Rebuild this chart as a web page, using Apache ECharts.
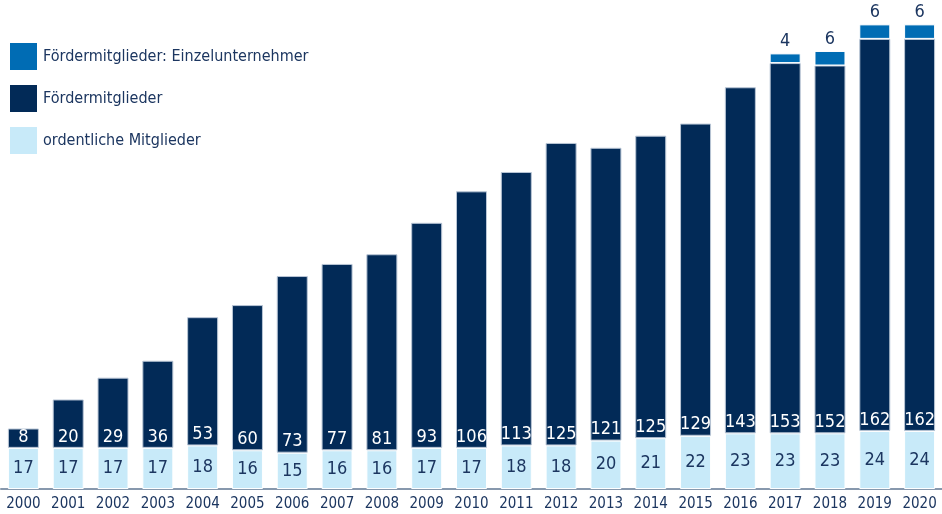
<!DOCTYPE html>
<html>
<head>
<meta charset="utf-8">
<script src="https://cdn.jsdelivr.net/npm/echarts@6/dist/echarts.min.js"></script>
<style>
  html, body { margin: 0; padding: 0; background: #fff; }
  #chart { width: 942px; height: 514px; }
</style>
</head>
<body>
<div id="chart"></div>
<script>
const years = ["2000", "2001", "2002", "2003", "2004", "2005", "2006", "2007", "2008", "2009", "2010",
  "2011", "2012", "2013", "2014", "2015", "2016", "2017", "2018", "2019", "2020"];
const ordentliche = [17, 17, 17, 17, 18, 16, 15, 16, 16, 17, 17, 18, 18, 20, 21, 22, 23, 23, 23, 24, 24];
const foerder = [8, 20, 29, 36, 53, 60, 73, 77, 81, 93, 106, 113, 125, 121, 125, 129, 143, 153, 152, 162, 162];
const einzel = [null, null, null, null, null, null, null, null, null, null, null,
  null, null, null, null, null, null, 4, 6, 6, 6];

const FONT = "'DejaVu Sans Condensed', 'Liberation Sans Narrow', sans-serif";
const TEXT = "#1c3660";

const chart = echarts.init(document.getElementById("chart"));

const option = {
  animation: false,
  textStyle: { fontFamily: FONT },
  legend: {
    orient: "vertical",
    left: 10,
    top: 43,
    padding: 0,
    itemWidth: 27,
    itemHeight: 27,
    itemGap: 15,
    icon: "rect",
    itemStyle: { borderWidth: 0 },
    data: ["Fördermitglieder: Einzelunternehmer", "Fördermitglieder", "ordentliche Mitglieder"],
    textStyle: { fontFamily: FONT, fontSize: 16, color: TEXT, padding: [0, 0, 0, 1] },
  },
  grid: {
    left: 1,
    width: 945,
    top: 5,
    bottom: 25,
  },
  xAxis: {
    type: "category",
    data: years,
    axisTick: { show: false },
    axisLine: { lineStyle: { color: "#8798ad", width: 2 } },
    axisLabel: { color: TEXT, fontSize: 15, margin: 8, fontFamily: FONT },
  },
  yAxis: {
    type: "value",
    min: 0,
    max: 200,
    show: false,
    splitLine: { show: false },
  },
  series: [
    {
      name: "ordentliche Mitglieder",
      type: "bar",
      stack: "total",
      barWidth: 31,
      data: ordentliche,
      itemStyle: { color: "#c8eaf9", borderColor: "#ffffff", borderWidth: 1 },
      label: {
        show: true,
        position: "inside",
        color: TEXT,
        fontSize: 18,
        fontFamily: FONT,
      },
    },
    {
      name: "Fördermitglieder",
      type: "bar",
      stack: "total",
      barWidth: 31,
      data: foerder,
      itemStyle: { color: "#022a57", borderColor: "#b9c6d6", borderWidth: 1 },
      label: {
        show: true,
        position: "insideBottom",
        distance: 2,
        color: "#ffffff",
        fontSize: 18,
        fontFamily: FONT,
      },
    },
    {
      name: "Fördermitglieder: Einzelunternehmer",
      type: "bar",
      stack: "total",
      barWidth: 31,
      data: einzel,
      itemStyle: { color: "#006cb4", borderColor: "#ffffff", borderWidth: 1 },
      label: {
        show: true,
        position: "top",
        distance: 3,
        color: TEXT,
        fontSize: 18,
        fontFamily: FONT,
      },
    },
  ],
};

chart.setOption(option);
</script>
</body>
</html>
